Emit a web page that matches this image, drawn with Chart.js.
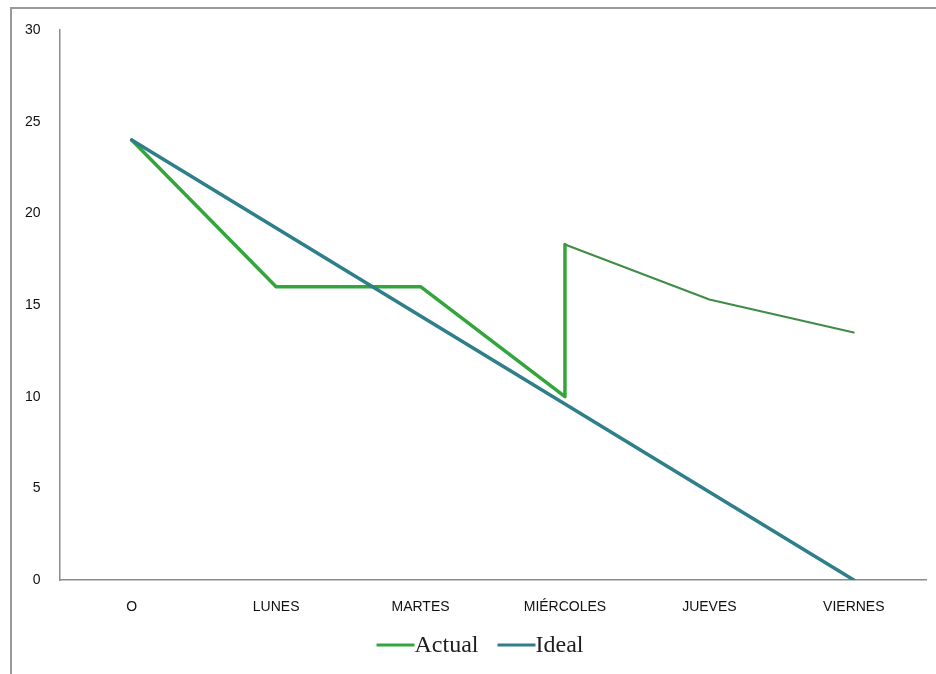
<!DOCTYPE html>
<html>
<head>
<meta charset="utf-8">
<script src="https://cdn.jsdelivr.net/npm/chart.js@4/dist/chart.umd.min.js"></script>
<style>
  html, body { margin: 0; padding: 0; background: #fff; overflow: hidden; }
  #wrap { position: relative; width: 936px; height: 674px; overflow: hidden; }
  #frame { position: absolute; left: 10px; top: 7px; width: 1000px; height: 1000px;
           border: 2px solid #9a9a9a; box-sizing: border-box; pointer-events: none; }
  canvas { position: absolute; left: 0; top: 0; }
</style>
</head>
<body>
<div id="wrap">
  <canvas id="c" width="936" height="674"></canvas>
  <div id="frame"></div>
</div>
<script>
// Burndown: remaining work per day
const days = ['O', 'LUNES', 'MARTES', 'MIÉRCOLES', 'JUEVES', 'VIERNES'];
const idealValues = [24, 19.2, 14.4, 9.6, 4.8, 0];
// Wednesday has two readings: before and after new work was added
const actualDays = ['O', 'LUNES', 'MARTES', 'MIÉRCOLES', 'MIÉRCOLES', 'JUEVES', 'VIERNES'];
const actualValues = [24, 16, 16, 10, 18.3, 15.3, 13.5];
const yTicks = [0, 5, 10, 15, 20, 25, 30];

const GREEN = '#33a63b';
const GREEN_THIN = '#3f8c46';
const TEAL = '#2e7f8a';

// Legend drawn as line swatch touching the label text
const lineLegend = {
  id: 'lineLegend',
  afterDraw(chart) {
    const ctx = chart.ctx;
    const font = '24px "Liberation Serif", "Times New Roman", serif';
    const sw = 38, gap = 19, y = 645;
    ctx.save();
    ctx.font = font;
    const items = chart.data.datasets.map(ds => ({
      label: ds.label, color: ds.borderColor, w: ctx.measureText(ds.label).width
    }));
    items.sort((a, b) => a.label === 'Actual' ? -1 : 1);
    let total = items.reduce((s, it) => s + sw + it.w, 0) + gap * (items.length - 1);
    let x = 480 - total / 2;
    ctx.textBaseline = 'middle';
    ctx.fillStyle = '#1e1e1e';
    for (const it of items) {
      ctx.strokeStyle = it.color;
      ctx.lineWidth = 3;
      ctx.beginPath();
      ctx.moveTo(x, y);
      ctx.lineTo(x + sw, y);
      ctx.stroke();
      ctx.fillText(it.label, x + sw, y + 1);
      x += sw + it.w + gap;
    }
    ctx.restore();
  }
};

new Chart(document.getElementById('c'), {
  type: 'line',
  data: {
    labels: days,
    datasets: [
      {
        label: 'Actual',
        data: actualDays.map((d, i) => ({ x: d, y: actualValues[i] })),
        borderColor: GREEN,
        borderWidth: 3.5,
        pointRadius: 0,
        borderJoinStyle: 'round',
        borderCapStyle: 'round',
        tension: 0,
        order: 1,
        segment: {
          borderWidth: c => c.p0DataIndex >= 4 ? 2 : 3.5,
          borderColor: c => c.p0DataIndex >= 4 ? GREEN_THIN : GREEN
        }
      },
      {
        label: 'Ideal',
        data: idealValues,
        borderColor: TEAL,
        borderWidth: 3.5,
        pointRadius: 0,
        borderJoinStyle: 'round',
        borderCapStyle: 'round',
        tension: 0,
        order: 0
      }
    ]
  },
  options: {
    responsive: false,
    animation: false,
    events: [],
    layout: { padding: { top: 30, right: 10, left: 0, bottom: 0 } },
    plugins: { legend: { display: false }, tooltip: { enabled: false } },
    scales: {
      x: {
        type: 'category',
        offset: true,
        grid: { display: false, drawTicks: false },
        border: { display: true, color: '#8c8c8c', width: 1.5 },
        ticks: {
          color: '#111',
          padding: 19,
          maxRotation: 0,
          font: { family: '"Liberation Sans", Arial, sans-serif', size: 14 }
        },
        afterFit(scale) { scale.height = 94; }
      },
      y: {
        min: 0,
        max: 30,
        afterBuildTicks(scale) { scale.ticks = yTicks.map(v => ({ value: v })); },
        grid: { display: false, drawTicks: false },
        border: { display: true, color: '#8c8c8c', width: 1.5 },
        ticks: {
          color: '#111',
          padding: 19,
          font: { family: '"Liberation Sans", Arial, sans-serif', size: 14 }
        },
        afterFit(scale) { scale.width = 59.5; }
      }
    }
  },
  plugins: [lineLegend]
});
</script>
</body>
</html>
